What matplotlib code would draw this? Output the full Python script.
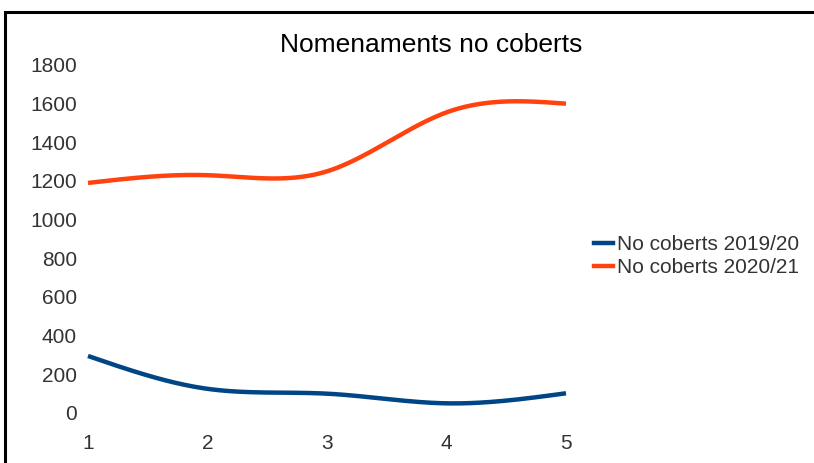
import numpy as np
import matplotlib.pyplot as plt
from matplotlib.patches import Rectangle
from matplotlib.lines import Line2D

plt.rcParams['font.family'] = ['Liberation Sans', 'DejaVu Sans']

# ── Data ──
x = [1, 2, 3, 4, 5]
no_coberts_1920 = [295, 125, 100, 50, 102]
no_coberts_2021 = [1190, 1230, 1250, 1555, 1600]
labels = ['No coberts 2019/20', 'No coberts 2020/21']
colors = ['#004586', '#ff420e']
yticks = list(range(0, 1801, 200))


def natural_spline(xs, ys, n=200):
    # natural cubic spline, like the office "smooth line" option
    xs = np.asarray(xs, float)
    ys = np.asarray(ys, float)
    k = len(xs)
    h = np.diff(xs)
    A = np.zeros((k, k))
    b = np.zeros(k)
    A[0, 0] = A[-1, -1] = 1
    for i in range(1, k - 1):
        A[i, i - 1] = h[i - 1]
        A[i, i] = 2 * (h[i - 1] + h[i])
        A[i, i + 1] = h[i]
        b[i] = 6 * ((ys[i + 1] - ys[i]) / h[i] - (ys[i] - ys[i - 1]) / h[i - 1])
    M = np.linalg.solve(A, b)
    xx = np.linspace(xs[0], xs[-1], n)
    yy = np.empty_like(xx)
    for j, t in enumerate(xx):
        i = min(np.searchsorted(xs, t, side='right') - 1, k - 2)
        a, c = xs[i], xs[i + 1]
        hi = h[i]
        yy[j] = (M[i] * (c - t) ** 3 / (6 * hi) + M[i + 1] * (t - a) ** 3 / (6 * hi)
                 + (ys[i] / hi - M[i] * hi / 6) * (c - t)
                 + (ys[i + 1] / hi - M[i + 1] * hi / 6) * (t - a))
    return xx, yy


fig = plt.figure(figsize=(8.14, 4.63), dpi=100)
W, H = 814, 463
ax = fig.add_axes([88 / W, 1 - 413 / H, (566 - 88) / W, (413 - 65) / H])

for ys, c in zip([no_coberts_1920, no_coberts_2021], colors):
    xx, yy = natural_spline(x, ys)
    ax.plot(xx, yy, color=c, linewidth=3.2, solid_capstyle='butt', clip_on=False)

ax.set_xlim(1, 5)
ax.set_ylim(0, 1800)
ax.set_xticks(x)
ax.set_yticks(yticks)
ax.tick_params(length=0, labelsize=15, labelcolor='#333333')
ax.tick_params(axis='y', pad=8)
ax.tick_params(axis='x', pad=15)
for s in ax.spines.values():
    s.set_visible(False)
ax.patch.set_alpha(0)

fig.text(431 / W, 1 - 45 / H, 'Nomenaments no coberts', ha='center', va='center',
         fontsize=19, color='black')

handles = [Line2D([], [], color=c, linewidth=3.2) for c in colors]
fig.legend(handles, labels, loc='center left', bbox_to_anchor=(594 / W, 1 - 256 / H),
           frameon=False, fontsize=15, labelcolor='#333333', handlelength=0.9,
           handletextpad=0.2, labelspacing=0.2, borderaxespad=0, borderpad=0)

# outer frame of the chart object
fig.patches.append(Rectangle((5 / W, -0.1), 1.1, 1 - 12 / H + 0.1, transform=fig.transFigure,
                             fill=False, edgecolor='black', linewidth=2.2))

fig.savefig('out.png', dpi=100)
